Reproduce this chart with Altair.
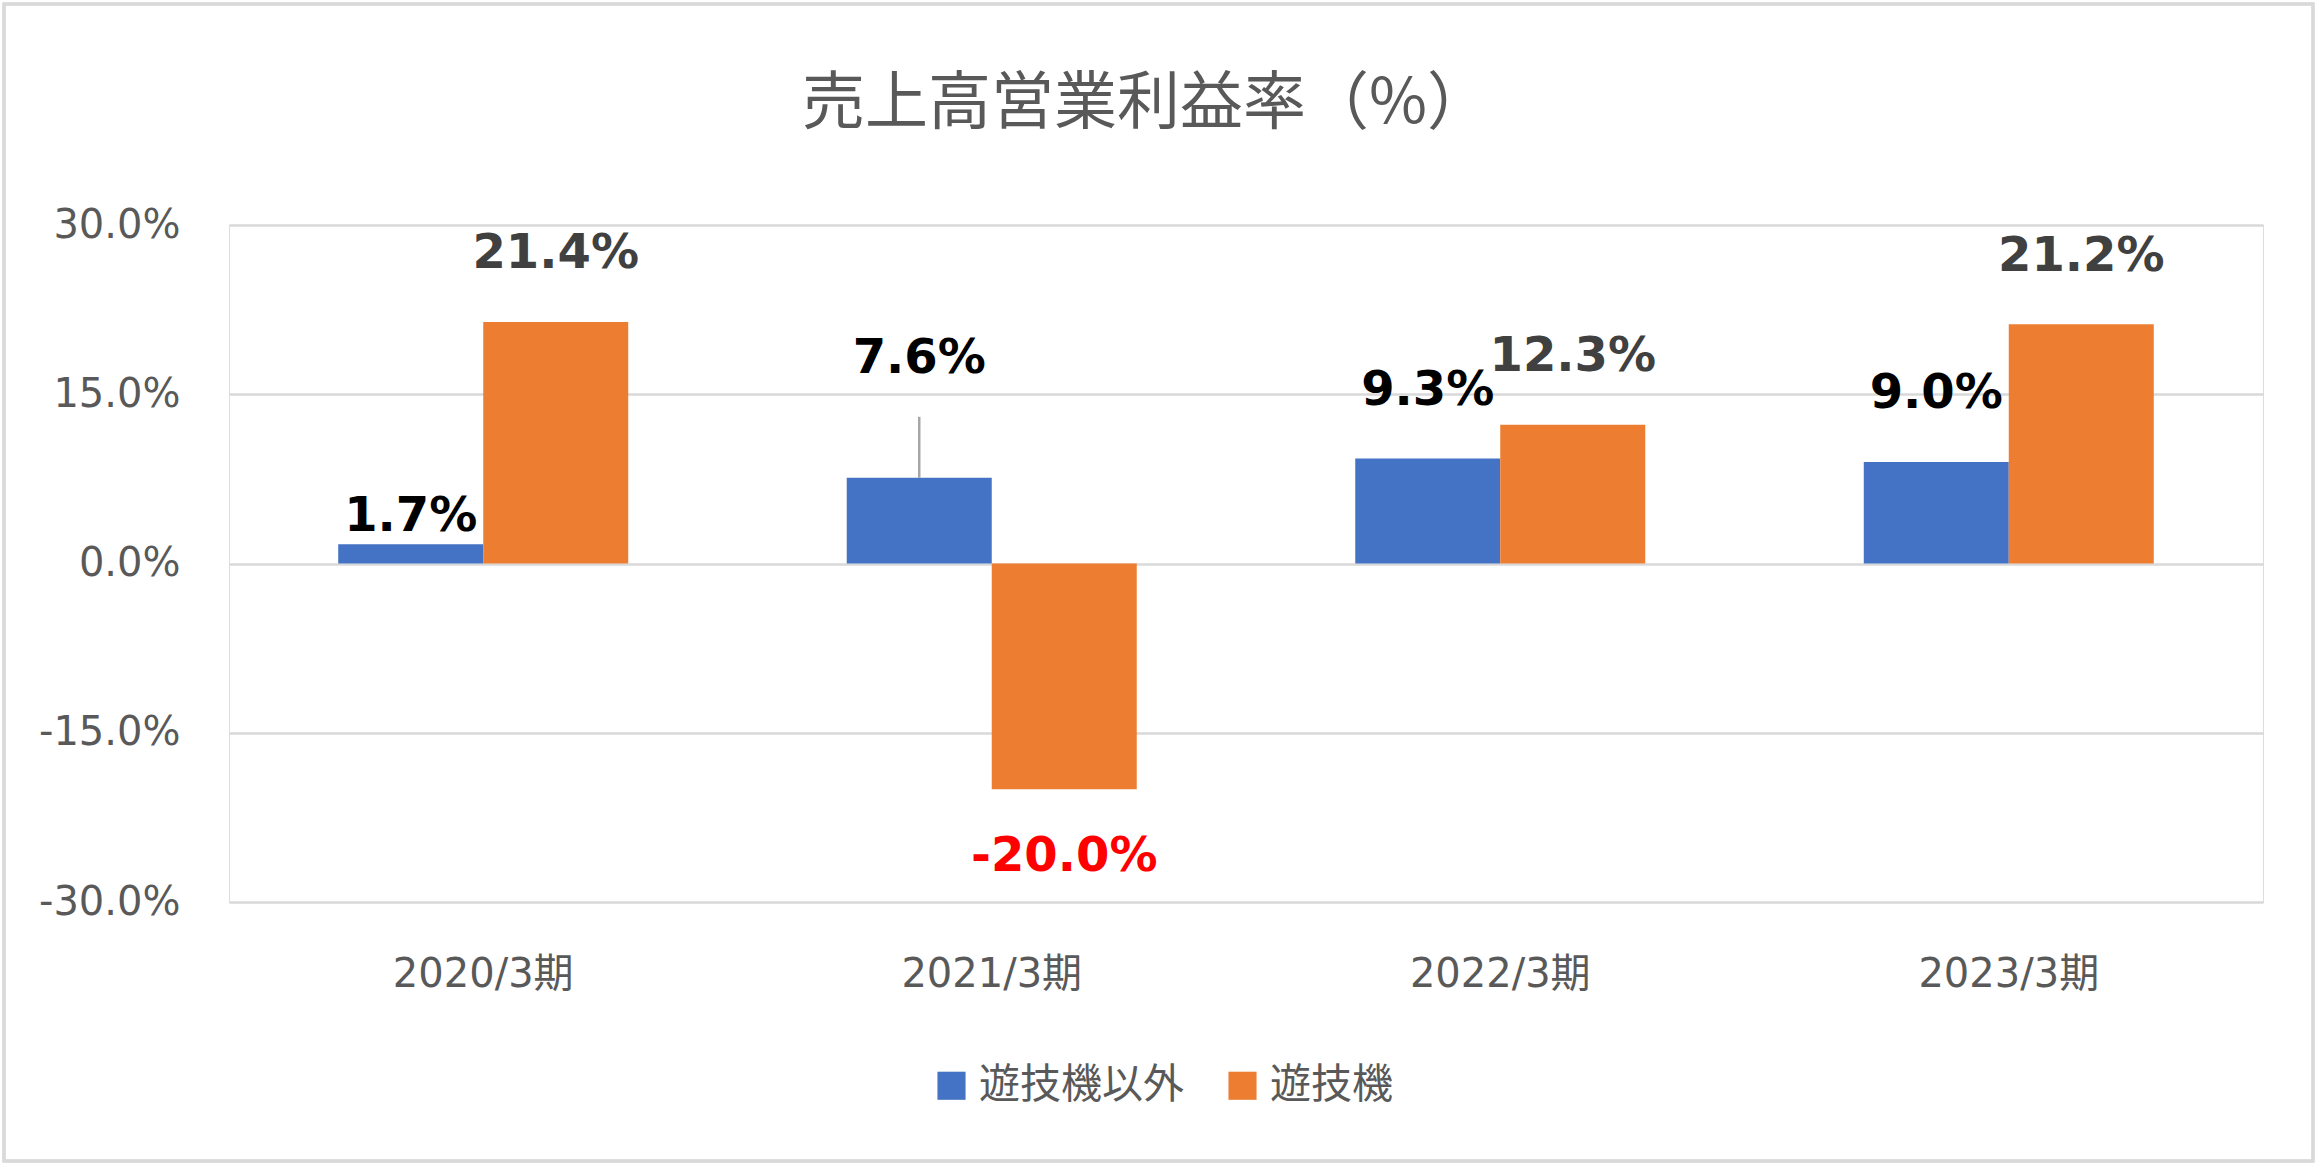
import altair as alt
import pandas as pd

# ---- data ----
periods = ["2020/3期", "2021/3期", "2022/3期", "2023/3期"]
series_names = ["遊技機以外", "遊技機"]
non_gaming = [1.7, 7.6, 9.3, 9.0]
gaming = [21.4, -20.0, 12.3, 21.2]
y_ticks = [-30, -15, 0, 15, 30]
title_text = "売上高営業利益率（%）"

# ---- styles ----
BLUE = "#4472C4"
ORANGE = "#ED7D31"
GRID = "#D9D9D9"
TEXT_GRAY = "#595959"
LABEL_GAP = 6.0  # label distance from bar end (data units)
LABEL_NUDGE = {("2020/3期", "遊技機以外"): -3.6, ("2021/3期", "遊技機以外"): 4.5}
LEADER_GAP = 5.1  # leader line stops this far below the moved label centre
LABEL_COLORS = {"遊技機以外": "#000000", "遊技機": "#404040"}
NEG_COLOR = "#FF0000"

W, H = 2034, 677
PAD = {"left": 229, "top": 225, "right": 56, "bottom": 266}

rows = []
for name, vals in zip(series_names, [non_gaming, gaming]):
    for p, v in zip(periods, vals):
        sign = 1 if v >= 0 else -1
        nudge = LABEL_NUDGE.get((p, name), 0.0)
        label_y = v + sign * LABEL_GAP + nudge
        leader_top = label_y - LEADER_GAP if nudge > 0 else None
        rows.append({
            "period": p,
            "series": name,
            "value": v,
            "label": f"{v:.1f}%",
            "label_y": label_y,
            "label_color": LABEL_COLORS[name] if v >= 0 else NEG_COLOR,
            "leader_top": leader_top,
        })
df = pd.DataFrame(rows)

x_enc = alt.X(
    "period:N",
    sort=periods,
    scale=alt.Scale(paddingInner=0.4297, paddingOuter=0.2148),
    axis=alt.Axis(
        title=None, labelAngle=0, domain=False, ticks=False,
        labelFont="DejaVu Sans, Noto Sans CJK JP", labelFontSize=40,
        labelColor=TEXT_GRAY, labelPadding=52, labelLimit=0,
    ),
)
xoff_enc = alt.XOffset("series:N", sort=series_names,
                       scale=alt.Scale(paddingInner=0, paddingOuter=0))
y_scale = alt.Scale(domain=[-30, 30], nice=False, zero=False)

bars = alt.Chart(df).mark_bar().encode(
    x=x_enc,
    xOffset=xoff_enc,
    y=alt.Y(
        "value:Q", scale=y_scale,
        axis=alt.Axis(
            title=None, values=y_ticks, domain=False, ticks=False,
            labelExpr="replace(format(datum.value, '.1f'), '\u2212', '-') + '%'",
            labelFont="DejaVu Sans", labelFontSize=40, labelColor=TEXT_GRAY,
            labelPadding=49, grid=True, gridColor=GRID, gridWidth=2.5,
        ),
    ),
    color=alt.Color(
        "series:N", sort=series_names,
        scale=alt.Scale(domain=series_names, range=[BLUE, ORANGE]),
        legend=alt.Legend(
            title=None, orient="none", direction="horizontal",
            legendX=702, legendY=840,
            symbolType="square", symbolSize=790, symbolStrokeWidth=0,
            labelFont="Noto Sans CJK JP", labelFontSize=41, labelColor=TEXT_GRAY,
            labelOffset=7, columnPadding=38, labelLimit=0,
        ),
    ),
)

leader = alt.Chart(df).transform_filter(
    "isValid(datum.leader_top)"
).mark_rule(color="#A6A6A6", strokeWidth=2.5).encode(
    x=x_enc, xOffset=xoff_enc,
    y=alt.Y("value:Q", scale=y_scale),
    y2="leader_top:Q",
)

labels = alt.Chart(df).mark_text(
    font="DejaVu Sans", fontSize=48, fontWeight="bold", baseline="middle", align="center"
).encode(
    x=x_enc, xOffset=xoff_enc,
    y=alt.Y("label_y:Q", scale=y_scale),
    text="label:N",
    color=alt.Color("label_color:N", scale=None),
)

border = alt.Chart(df).mark_rect(fill=None, stroke=GRID, strokeWidth=2.5).encode(
    x=alt.value(-225), x2=alt.value(W + 50),
    y=alt.value(-221), y2=alt.value(H + 259),
)

chart = alt.layer(border, bars, leader, labels).properties(
    width=W, height=H,
    padding=PAD,
    autosize=alt.AutoSizeParams(type="none"),
    title=alt.TitleParams(
        title_text, font="Noto Sans CJK JP", fontSize=63, fontWeight="normal",
        color=TEXT_GRAY, anchor="middle", dx=-100, offset=0, dy=133,
    ),
).configure_view(stroke=None).configure(background="white")

chart.save("out.html", embed_options={"renderer": "svg", "actions": False})
